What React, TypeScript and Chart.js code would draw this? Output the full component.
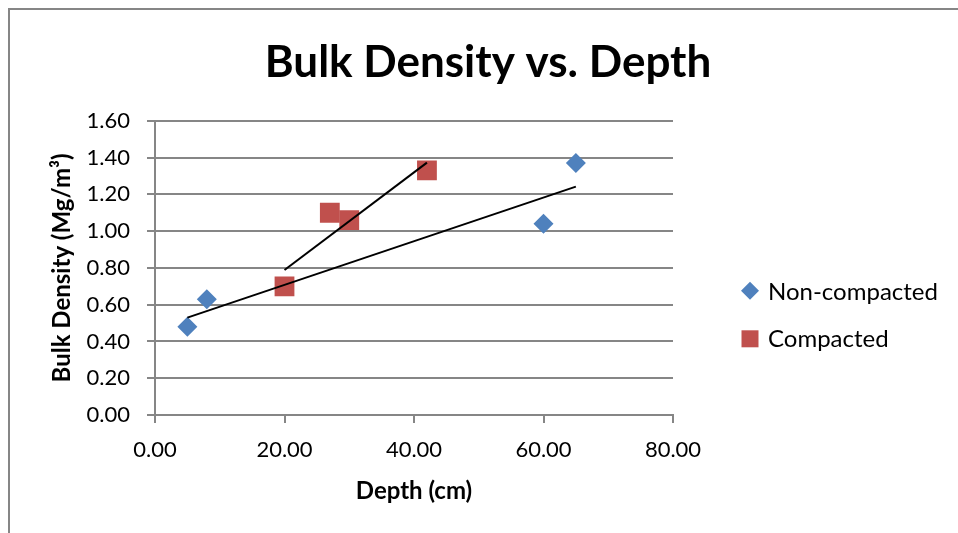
import React, { useEffect, useRef } from "react";
import { Chart, registerables } from "chart.js";

Chart.register(...registerables);

// ---- data ----
const chartTitle = "Bulk Density vs. Depth";
const xAxisTitle = "Depth (cm)";
const yAxisTitle = "Bulk Density (Mg/m³)";
const seriesNames = ["Non-compacted", "Compacted"];
const seriesColors = ["#4F81BD", "#C0504D"];
const nonCompactedDepth = [5, 8, 60, 65];
const nonCompactedDensity = [0.48, 0.63, 1.04, 1.37];
const compactedDepth = [20, 27, 30, 42];
const compactedDensity = [0.7, 1.1, 1.06, 1.33];
const xTickValues = [0, 20, 40, 60, 80];
const yTickValues = [0, 0.2, 0.4, 0.6, 0.8, 1.0, 1.2, 1.4, 1.6];

const FONT = "Lato, 'Open Sans', sans-serif";
const GRID = "#868686";

function toPoints(xs: number[], ys: number[]) {
  return xs.map((x, i) => ({ x, y: ys[i] }));
}

// Excel-style linear trendline through the series' own data
function linearTrend(xs: number[], ys: number[]) {
  const n = xs.length;
  const mx = xs.reduce((a, b) => a + b, 0) / n;
  const my = ys.reduce((a, b) => a + b, 0) / n;
  let sxy = 0;
  let sxx = 0;
  for (let i = 0; i < n; i++) {
    sxy += (xs[i] - mx) * (ys[i] - my);
    sxx += (xs[i] - mx) * (xs[i] - mx);
  }
  const slope = sxy / sxx;
  const icpt = my - slope * mx;
  const x0 = Math.min(...xs);
  const x1 = Math.max(...xs);
  return [
    { x: x0, y: icpt + slope * x0 },
    { x: x1, y: icpt + slope * x1 },
  ];
}

const legendPlugin = {
  id: "excelLegend",
  afterDraw(chart: any) {
    const { ctx, chartArea } = chart;
    const markerX = chartArea.right + 77;
    const textX = chartArea.right + 95;
    const firstY = chartArea.top + 170;
    const gap = 47;
    ctx.save();
    chart.data.datasets.forEach((ds: any) => {
      if (!ds.inLegend) return;
      const y = firstY + ds.legendIndex * gap;
      ctx.fillStyle = ds.backgroundColor;
      ctx.beginPath();
      if (ds.pointStyle === "rectRot") {
        const r = 9;
        ctx.moveTo(markerX, y - r);
        ctx.lineTo(markerX + r, y);
        ctx.lineTo(markerX, y + r);
        ctx.lineTo(markerX - r, y);
        ctx.closePath();
      } else {
        const h = 8.5;
        ctx.rect(markerX - h, y + 1 - h, 2 * h, 2 * h);
      }
      ctx.fill();
      ctx.fillStyle = "#000";
      ctx.font = `24px ${FONT}`;
      ctx.textBaseline = "middle";
      ctx.textAlign = "left";
      ctx.fillText(ds.label, textX, y + 1);
    });
    ctx.restore();
  },
};

export default function App() {
  const canvasRef = useRef<HTMLCanvasElement | null>(null);

  useEffect(() => {
    if (!canvasRef.current) return;
    const chart = new Chart(canvasRef.current, {
      type: "scatter",
      data: {
        datasets: [
          {
            label: seriesNames[0],
            data: toPoints(nonCompactedDepth, nonCompactedDensity),
            backgroundColor: seriesColors[0],
            borderColor: seriesColors[0],
            pointStyle: "rectRot",
            pointRadius: 10,
            pointHoverRadius: 10,
            pointBorderWidth: 0,
            order: 1,
            inLegend: true,
            legendIndex: 0,
          } as any,
          {
            label: seriesNames[1],
            data: toPoints(compactedDepth, compactedDensity),
            backgroundColor: seriesColors[1],
            borderColor: seriesColors[1],
            pointStyle: "rect",
            pointRadius: 14,
            pointHoverRadius: 14,
            pointBorderWidth: 0,
            order: 1,
            inLegend: true,
            legendIndex: 1,
          } as any,
          {
            label: "Linear (" + seriesNames[0] + ")",
            data: linearTrend(nonCompactedDepth, nonCompactedDensity),
            showLine: true,
            borderColor: "#000",
            backgroundColor: "#000",
            borderWidth: 2,
            pointRadius: 0,
            order: 0,
          } as any,
          {
            label: "Linear (" + seriesNames[1] + ")",
            data: linearTrend(compactedDepth, compactedDensity),
            showLine: true,
            borderColor: "#000",
            backgroundColor: "#000",
            borderWidth: 2,
            pointRadius: 0,
            order: 0,
          } as any,
        ],
      },
      options: {
        responsive: false,
        animation: false,
        devicePixelRatio: 1,
        layout: { padding: { left: 8, right: 0, top: 0, bottom: 0 } },
        plugins: {
          legend: { display: false },
          tooltip: { enabled: false },
          title: {
            display: true,
            text: chartTitle,
            color: "#000",
            font: { family: FONT, size: 44, weight: "bold", lineHeight: 1.2 },
            padding: { top: 26, bottom: 32 },
          },
        },
        scales: {
          x: {
            type: "linear",
            min: xTickValues[0],
            max: xTickValues[xTickValues.length - 1],
            afterBuildTicks: (scale: any) => {
              scale.ticks = xTickValues.map((v) => ({ value: v }));
            },
            afterFit: (scale: any) => {
              scale.height = 118;
            },
            ticks: {
              color: "#000",
              font: { family: FONT, size: 22 },
              padding: 14,
              maxRotation: 0,
              callback: (v: any) => Number(v).toFixed(2),
            },
            grid: {
              display: true,
              drawOnChartArea: false,
              drawTicks: true,
              tickLength: 8,
              color: GRID,
              lineWidth: 2,
            },
            border: { display: true, color: GRID, width: 2 },
            title: {
              display: true,
              text: xAxisTitle,
              color: "#000",
              font: { family: FONT, size: 24, weight: "bold", lineHeight: 1.2 },
              padding: { top: 0, bottom: 27 },
            },
          },
          y: {
            type: "linear",
            position: "left",
            min: yTickValues[0],
            max: yTickValues[yTickValues.length - 1],
            afterBuildTicks: (scale: any) => {
              scale.ticks = yTickValues.map((v) => ({ value: v }));
            },
            afterFit: (scale: any) => {
              scale.width = 137;
            },
            ticks: {
              color: "#000",
              font: { family: FONT, size: 22 },
              padding: 17,
              callback: (v: any) => Number(v).toFixed(2),
            },
            grid: {
              display: true,
              drawOnChartArea: true,
              drawTicks: true,
              tickLength: 8,
              color: GRID,
              lineWidth: 2,
            },
            border: { display: true, color: GRID, width: 2 },
            title: {
              display: true,
              text: yAxisTitle,
              color: "#000",
              font: { family: FONT, size: 24, weight: "bold", lineHeight: 1.2 },
              padding: { top: 30, bottom: 0 },
            },
          },
          legendSpace: {
            type: "linear",
            position: "right",
            display: true,
            afterFit: (scale: any) => {
              scale.width = 285;
            },
            ticks: { display: false },
            grid: { display: false, drawTicks: false },
            border: { display: false },
            title: { display: false },
          },
        },
      },
      plugins: [legendPlugin],
    } as any);
    return () => chart.destroy();
  }, []);

  return (
    <div
      style={{
        position: "fixed",
        left: 8,
        top: 8,
        width: 950,
        height: 525,
        overflow: "hidden",
        background: "#fff",
      }}
    >
      <div
        style={{
          position: "absolute",
          left: 0,
          top: 0,
          width: 1000,
          height: 600,
          border: `2px solid ${GRID}`,
          background: "#fff",
        }}
      >
        <canvas ref={canvasRef} width={948} height={523} style={{ display: "block" }} />
      </div>
    </div>
  );
}
